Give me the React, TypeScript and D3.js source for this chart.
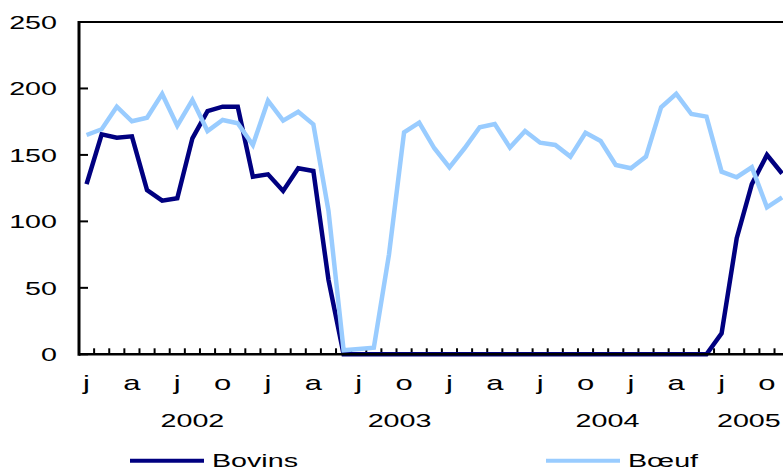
import React, { useEffect } from "react";
import * as d3 from "d3";

// monthly values, Jan 2002 onward
const bovins = [
  128, 165.5, 163, 164, 123.6, 115.6, 117.4, 162.5, 183, 186.3, 186.3, 133.6,
  135.4, 122.9, 140, 137.9, 56, 0, 0, 0, 0, 0, 0, 0,
  0, 0, 0, 0, 0, 0, 0, 0, 0, 0, 0, 0,
  0, 0, 0, 0, 0, 0, 15.8, 87.3, 128, 150, 136,
];
const boeuf = [
  165, 169.3, 186.3, 175.3, 178, 195.9, 172, 191.3, 168, 176.3, 173.8, 157.5,
  190.8, 175.8, 182.5, 173, 108, 3, 4, 5, 75, 167, 174.3, 155,
  140.7, 155, 170.8, 173.3, 155.5, 168, 159.2, 157.5, 148.7, 166.7, 160.5, 142.4,
  140, 148.7, 185.9, 195.9, 180.8, 178.8, 137.4, 133.2, 140.7, 110.6, 118,
];
const monthLetters = ["j", "a", "j", "o"];
const yTicks = [0, 50, 100, 150, 200, 250];
const years = ["2002", "2003", "2004", "2005"];
const yearAt = [7, 20.7, 34.45, 43.8]; // month index under each year label

const width = 783;
const height = 470;
const margin = { top: 22, left: 79, bottom: 354.3 };
const monthWidth = 15.12;
const nMonths = 48;
const stretch = "scale(1.55,1)";
const font = "'Liberation Sans', Arial, sans-serif";

export default function App() {
  useEffect(() => {
    document.body.style.margin = "0";
  }, []);

  const x = d3
    .scaleLinear()
    .domain([0, nMonths])
    .range([margin.left, margin.left + nMonths * monthWidth]);
  const y = d3.scaleLinear().domain([0, 250]).range([margin.bottom, margin.top]);

  const line = d3
    .line<number>()
    .x((d, i) => x(i + 0.5))
    .y((d) => y(d));

  const right = x(nMonths);

  return (
    <svg width={width} height={height} style={{ display: "block" }} fontFamily={font}>
      {/* frame */}
      <line x1={margin.left} x2={right} y1={y(250)} y2={y(250)} stroke="#000" strokeWidth={2} />
      <line x1={margin.left} x2={margin.left} y1={y(250) - 1} y2={y(0) + 1.5} stroke="#000" strokeWidth={3} />

      {/* y ticks */}
      {yTicks.map((t) => (
        <g key={t}>
          <line x1={margin.left} x2={margin.left + 9} y1={y(t)} y2={y(t)} stroke="#000" strokeWidth={2} />
          <text
            transform={`translate(57,${y(t) + 7}) ${stretch}`}
            textAnchor="end"
            fontSize={18.5}
            fill="#000"
          >
            {t}
          </text>
        </g>
      ))}

      {/* month ticks */}
      {d3.range(1, nMonths).map((i) => (
        <line key={i} x1={x(i)} x2={x(i)} y1={y(0)} y2={y(0) - 6} stroke="#000" strokeWidth={2} />
      ))}

      {/* month letters */}
      {d3.range(0, bovins.length, 3).map((i) => (
        <text
          key={i}
          transform={`translate(${x(i + 0.5)},389.5) ${stretch}`}
          textAnchor="middle"
          fontSize={20}
          fill="#000"
        >
          {monthLetters[(i / 3) % 4]}
        </text>
      ))}

      {/* years */}
      {years.map((yr, k) => (
        <text
          key={yr}
          transform={`translate(${x(yearAt[k] + 0.5)},426.7) ${stretch}`}
          textAnchor="middle"
          fontSize={18.5}
          fill="#000"
        >
          {yr}
        </text>
      ))}

      {/* series */}
      <path d={line(bovins) || ""} fill="none" stroke="#000080" strokeWidth={4.5} />
      <path d={line(boeuf) || ""} fill="none" stroke="#99ccff" strokeWidth={4.5} />
      <line x1={margin.left} x2={right} y1={y(0)} y2={y(0)} stroke="#000" strokeWidth={2.5} />
      <path d={line(bovins.map((v, i) => (i >= 17 && i <= 41 ? v : NaN))) || ""} fill="none" stroke="#000080" strokeWidth={4} />

      {/* legend */}
      <line x1={130} x2={204} y1={460.7} y2={460.7} stroke="#000080" strokeWidth={4} />
      <text transform={`translate(212,466.7) ${stretch}`} fontSize={18.5} fill="#000">
        Bovins
      </text>
      <line x1={546} x2={620} y1={460.7} y2={460.7} stroke="#99ccff" strokeWidth={4} />
      <text transform={`translate(628,466.7) ${stretch}`} fontSize={18.5} fill="#000">
        Bœuf
      </text>
    </svg>
  );
}
